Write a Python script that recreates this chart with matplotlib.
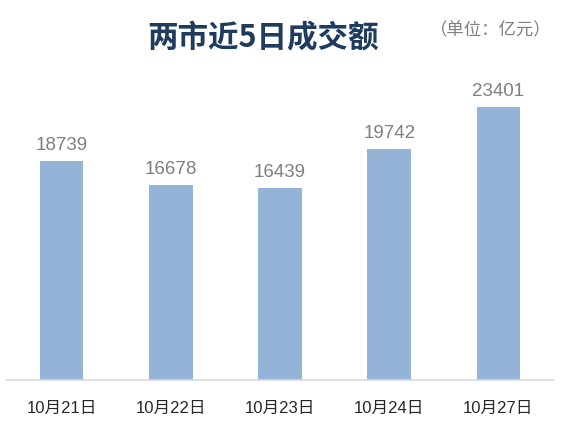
import matplotlib
import matplotlib.pyplot as plt

matplotlib.use("Agg")

plt.rcParams["font.family"] = ["Liberation Sans", "Noto Sans CJK SC", "DejaVu Sans"]

dates = ["10月21日", "10月22日", "10月23日", "10月24日", "10月27日"]
turnover = [18739, 16678, 16439, 19742, 23401]

BAR_COLOR = "#95b3d7"
W, H = 568, 433

fig = plt.figure(figsize=(W / 100, H / 100), dpi=100)
ax = fig.add_axes([7 / W, (H - 380) / H, 546 / W, 292 / H])

x = range(len(dates))
bars = ax.bar(x, turnover, width=0.4, color=BAR_COLOR, zorder=2)
ax.set_xlim(-0.5, len(dates) - 0.5)
ax.set_ylim(0, 25000)

for rect, v in zip(bars, turnover):
    ax.annotate(str(v), (rect.get_x() + rect.get_width() / 2, v),
                xytext=(0, 5), textcoords="offset points",
                ha="center", va="bottom", fontsize=13.5, color="#7f7f7f")

ax.set_xticks(list(x))
ax.set_xticklabels(dates, fontsize=12, color="#262626")
ax.tick_params(axis="x", length=0, pad=15)
ax.set_yticks([])
for side in ["top", "left", "right"]:
    ax.spines[side].set_visible(False)
ax.spines["bottom"].set_color("#d9d9d9")
ax.spines["bottom"].set_linewidth(1.2)

fig.text(263 / W, 1 - 38 / H, "两市近5日成交额", ha="center", va="center",
         fontsize=22, fontweight="bold", color="#1f3b5e",
         family=["Noto Sans CJK SC", "DejaVu Sans"])
fig.text(491 / W, 1 - 30 / H, "（单位：亿元）", ha="center", va="center",
         fontsize=12.5, color="#7f7f7f",
         family=["Noto Sans CJK SC", "DejaVu Sans"])

fig.savefig("out.png", dpi=100)
plt.close(fig)
